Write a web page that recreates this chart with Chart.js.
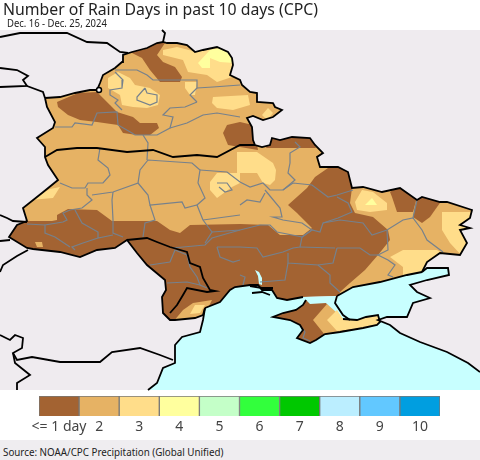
<!DOCTYPE html>
<html>
<head>
<meta charset="utf-8">
<script src="https://cdn.jsdelivr.net/npm/chart.js@4"></script>
<style>
  html, body { margin: 0; padding: 0; background: #fff; }
  #wrap { position: relative; width: 480px; height: 460px; overflow: hidden; font-family: "Noto Sans", sans-serif; }
  canvas { position: absolute; left: 0; }
  .txt { position: absolute; white-space: nowrap; color: #222; transform-origin: left center; }
  #title { left: 3px; top: -3px; font-size: 15.8px; line-height: 24px; }
  #sub { left: 7px; top: 15px; font-size: 11px; line-height: 16px; transform: scaleX(.86); }
  #foot { position: absolute; left: 0; top: 440px; width: 480px; height: 20px; background: #efedf0; }
  #source { left: 3px; top: 444px; font-size: 11.4px; line-height: 16px; transform: scaleX(.86); }
</style>
</head>
<body>
<div id="wrap">
  <canvas id="map" width="480" height="460" style="top:0"></canvas>
  <div id="foot"></div>
  <canvas id="key" width="480" height="50" style="top:390px"></canvas>
  <div class="txt" id="title">Number of Rain Days in past 10 days (CPC)</div>
  <div class="txt" id="sub">Dec. 16 - Dec. 25, 2024</div>
  <div class="txt" id="source">Source: NOAA/CPC Precipitation (Global Unified)</div>
</div>
<script>
// legend
const dayLabels = ["<= 1 day", "2", "3", "4", "5", "6", "7", "8", "9", "10"];
const dayColors = ["#a36332", "#e6b264", "#ffdd8a", "#ffff9e", "#c4ffc8", "#32ff3c", "#00c800", "#bbeeff", "#62c8ff", "#009ee0"];
const dayCells = [1, 1, 1, 1, 1, 1, 1, 1, 1, 1];

// borders
const northBorder = [[45,98],[60,97],[75,93],[90,90],[97,90],[100,83],[103,75],[115,68],[122,62],[123,55],[132,52],[147,48],[157,43],[163,42],[167,43],[177,43],[187,45],[195,52],[203,50],[217,47],[228,52],[232,58],[233,65],[230,75],[240,80],[242,85],[250,92],[257,93],[257,102],[273,103],[275,107],[282,110],[273,117],[263,120],[253,116],[247,118],[252,127],[253,140],[255,145],[262,147],[270,145],[272,138],[280,140],[292,137],[310,138],[315,145],[323,153],[317,157],[320,167],[338,167],[348,172],[352,188],[363,187],[382,192],[400,188],[417,200],[422,197],[440,202],[447,202],[472,210],[470,218],[460,225],[470,228],[460,230],[467,243],[460,255],[440,253],[427,262],[422,272]];
const westBorder = [[45,98],[47,107],[55,122],[53,128],[37,138],[45,147],[45,157],[48,165],[58,180],[42,193],[23,208],[27,221],[17,225],[9,237],[27,248],[33,249],[60,252],[80,257],[97,250],[115,248],[127,240],[137,253],[147,265],[165,280],[166,290],[162,297],[163,313],[170,320],[175,320],[195,318],[203,315],[205,308]];
const coastWest = [[205,308],[220,302],[230,290],[235,287],[250,285],[258,285],[262,290],[272,290],[277,298],[287,300],[303,297]];
const coastEast = [[337,296],[353,287],[380,282],[407,275],[422,272]];
const farShore = [[422,272],[427,268],[448,268],[449,275],[427,280],[410,285],[417,292],[430,298],[413,303],[407,317],[387,317],[378,320],[390,325],[400,333],[420,342],[447,352],[468,363],[480,372]];
const seaEdge = [[480,390],[148,390],[157,383],[163,368],[175,363],[175,345],[182,337],[200,332],[203,320],[205,308]];
const crimeaNorth = [[306,300],[310,304],[326,303],[330,308],[336,315],[343,319]];
const crimeaRest = [[343,319],[357,320],[366,317],[378,315],[380,322],[377,325],[363,328],[340,332],[325,334],[316,340],[310,343],[297,338],[303,330],[300,325],[290,320],[273,317],[283,313],[296,310],[303,305],[306,300]];
const estuary = [[255,270],[259,272],[262,278],[262,285],[259,284],[258,276]];
const blackLines = [
  [[45,157],[57,150],[77,148],[97,148],[127,152],[153,150],[173,157],[197,155],[217,157],[240,145],[255,145]],
  [[127,240],[147,238],[157,242],[170,247],[187,252],[190,263],[200,267],[203,278],[210,290],[215,291],[207,292],[187,288],[183,295],[177,305],[170,313]],
  [[0,37],[20,33],[37,33],[67,33],[87,42],[107,43],[120,52],[128,53]],
  [[163,42],[165,33],[162,30]],
  [[0,68],[17,70],[28,76],[23,80],[27,86],[0,87]],
  [[27,86],[43,92],[45,98]],
  [[0,215],[7,218],[13,221],[27,222]],
  [[0,241],[10,240]],
  [[0,272],[3,265],[17,256],[28,250]],
  [[0,335],[10,340],[15,335],[23,338],[22,348],[13,353],[17,360],[32,357],[60,362],[100,362],[112,352],[140,348],[160,355],[173,360]],
  [[13,353],[15,363],[30,375],[17,383],[17,390]],
  [[250,286],[262,288],[273,288]],
  [[252,293],[262,292],[270,295]],
  [[337,296],[335,303],[343,315],[350,320]]
];
const greyLines = [
  [[115,70],[137,70],[147,75],[153,80],[170,80],[197,80],[197,88],[190,95],[197,102]],
  [[115,72],[123,80],[122,88],[110,90],[110,95],[118,100],[115,103],[122,110]],
  [[197,88],[213,87],[240,85]],
  [[145,88],[137,97],[137,100],[150,105],[157,102],[157,95],[147,93],[145,88]],
  [[55,127],[72,127],[75,123],[92,125],[97,113],[117,112],[118,125],[132,133],[135,135],[143,135],[157,135],[170,128],[173,117],[163,115],[170,108],[185,107],[197,102]],
  [[170,128],[187,123],[203,115],[217,113],[240,117]],
  [[143,135],[148,143],[147,160]],
  [[100,148],[98,160],[108,168],[110,175],[103,183],[88,183],[85,188],[72,188],[60,183]],
  [[87,188],[87,195],[92,200],[82,208],[70,210],[63,213],[67,220],[63,222],[45,225],[45,233],[55,237],[70,247]],
  [[92,195],[113,192],[138,183],[140,170],[148,160],[192,163],[200,170],[198,183],[205,198],[197,205]],
  [[113,192],[112,200],[113,220],[113,233],[123,237]],
  [[138,183],[148,195],[150,205],[182,202],[185,208],[197,205],[203,220],[212,232],[205,243]],
  [[150,205],[155,220],[145,223],[143,237]],
  [[75,210],[82,223],[98,232],[98,238],[113,235]],
  [[98,238],[83,243],[72,247],[75,250]],
  [[27,224],[45,225]],
  [[203,220],[240,215]],
  [[240,230],[212,238],[205,245],[183,247],[173,248]],
  [[217,247],[220,257],[233,262],[240,260]],
  [[200,170],[227,172],[240,182],[250,187],[263,183],[270,190],[283,190],[293,183],[312,185],[328,197],[337,195],[353,190]],
  [[217,183],[227,183],[232,190],[225,192],[219,187]],
  [[295,142],[300,147],[290,153],[290,163],[288,173],[295,180],[283,190]],
  [[265,190],[280,208],[282,217],[273,217],[283,220],[302,223],[312,230],[302,237]],
  [[240,205],[247,200],[260,202],[265,193]],
  [[212,232],[240,230],[260,225],[270,225],[277,232],[302,237],[300,247],[293,248],[283,252],[263,257],[257,248],[240,247],[217,247]],
  [[302,237],[312,230],[320,232],[323,223],[340,220],[363,223],[372,235],[387,230],[403,220],[413,218],[422,230],[427,240],[443,252]],
  [[323,223],[338,218],[352,212],[348,203],[337,197]],
  [[387,230],[388,250],[378,255],[388,260],[395,265],[388,275],[393,277]],
  [[288,253],[288,263],[318,265],[330,275],[330,283],[340,292]],
  [[288,263],[285,280],[260,282]],
  [[337,248],[360,248],[370,255],[378,255]],
  [[337,248],[333,263],[318,265]],
  [[300,247],[335,248]],
  [[413,218],[417,200]],
  [[240,275],[245,277],[243,285]],
  [[150,265],[170,262],[175,250],[187,255],[190,267],[197,277],[200,285],[207,288]],
  [[167,283],[187,282],[200,285]],
  [[300,325],[305,332],[303,338],[310,341]]
];

// rain day zones, each tagged with its number of days
const zoneDays = [1, 1, 1, 1, 1, 1, 1, 2, 3, 3, 3, 3, 3, 3, 3, 3, 3, 2, 3, 3, 3, 4, 4];
const zoneOutlines = [
  [[10,222],[25,221],[52,221],[57,220],[57,215],[68,209],[97,210],[112,221],[157,221],[170,230],[180,233],[190,225],[240,224],[268,225],[280,235],[303,235],[312,228],[297,213],[288,205],[307,188],[315,177],[328,168],[347,168],[352,188],[350,203],[355,213],[373,217],[388,230],[390,240],[378,255],[365,270],[350,283],[340,292],[337,300],[340,330],[200,345],[0,300]],
  [[57,102],[78,93],[97,92],[110,105],[117,112],[133,117],[140,123],[157,123],[159,128],[150,135],[137,135],[123,133],[118,125],[97,122],[80,120],[68,115],[58,107]],
  [[125,50],[143,50],[157,40],[167,40],[157,55],[163,62],[175,67],[182,77],[180,82],[160,82],[150,70],[142,58],[132,53]],
  [[240,122],[227,125],[223,133],[228,145],[240,147],[258,150],[253,125]],
  [[266,148],[272,134],[292,134],[310,134],[316,148]],
  [[390,192],[400,185],[417,197],[413,212],[397,212],[392,197]],
  [[417,197],[422,194],[442,200],[430,217],[422,223],[413,217]],
  [[173,322],[183,310],[193,303],[212,300],[205,314],[193,322]],
  [[190,314],[195,305],[205,305],[200,313]],
  [[163,50],[177,47],[197,52],[210,48],[230,50],[236,67],[232,77],[217,82],[207,75],[188,72],[183,60],[163,55]],
  [[108,78],[118,72],[130,78],[135,85],[150,88],[160,95],[158,105],[147,108],[133,107],[122,105],[120,95],[108,88]],
  [[185,82],[197,82],[195,95],[190,95],[185,88]],
  [[213,97],[248,95],[250,105],[233,110],[217,108],[212,103]],
  [[262,115],[268,108],[273,113],[267,120]],
  [[237,152],[257,152],[273,163],[276,170],[275,180],[270,185],[263,183],[257,173],[237,173]],
  [[210,182],[217,173],[240,173],[240,183],[232,187],[217,198],[210,190]],
  [[30,200],[50,189],[60,187],[53,198]],
  [[35,242],[42,242],[43,247],[37,247]],
  [[355,202],[362,190],[373,192],[387,203],[387,210],[370,212],[357,210]],
  [[442,212],[480,212],[480,260],[462,256],[450,243],[442,230],[442,218]],
  [[390,257],[403,250],[437,250],[445,255],[425,265],[422,276],[403,276],[403,267]],
  [[365,205],[372,198],[377,205]],
  [[198,63],[210,50],[227,46],[234,63],[220,62],[210,58],[210,68],[202,68]]
];
const crimeaZone2 = [[327,304],[313,320],[325,335],[340,332],[357,321],[343,319],[336,312]];
const crimeaZone3 = [[337,310],[327,320],[337,331],[363,328],[377,325],[380,322],[378,315],[366,317],[357,320],[343,319]];

const LAND = "#efebef", SEA = "#c8ffff", BASE = dayColors[1];
const toXY = pts => pts.map(p => ({ x: p[0], y: p[1] }));
const shape = (pts, color) => ({ data: toXY(pts), showLine: true, fill: "shape", backgroundColor: color, borderWidth: 0, borderColor: color, pointRadius: 0 });
const stroke = (pts, color, width) => ({ data: toXY(pts), showLine: true, fill: false, borderColor: color, borderWidth: width, pointRadius: 0 });

// everything outside the two countries, with a hole cut along the borders
const northRev = northBorder.slice().reverse();
const seamAt = northRev.findIndex(p => p[0] === 163 && p[1] === 42);
const coast = coastWest.concat(coastEast);
const crimea = crimeaNorth.concat(crimeaRest.slice(1));
const landMask = [[163,30],[480,30],[480,390],[0,390],[0,30],[163,30]]
  .concat(northRev.slice(seamAt), westBorder, coast, northRev.slice(0, seamAt + 1), [[163,30]]);

const layers = [];
layers.push(shape([[0,30],[480,30],[480,390],[0,390]], BASE));
zoneOutlines.forEach((z, i) => layers.push(shape(z, dayColors[zoneDays[i] - 1])));
layers.push(shape(landMask, LAND));
layers.push(shape(coast.concat(farShore, seaEdge), SEA));
layers.push(shape(estuary, SEA));
layers.push(shape(crimea, dayColors[0]));
layers.push(shape(crimeaZone2, dayColors[1]));
layers.push(shape(crimeaZone3, dayColors[2]));
greyLines.forEach(l => layers.push(stroke(l, "#76818c", 1.2)));
[northBorder, westBorder, coastWest, coastEast, farShore, seaEdge.slice(1), crimeaRest].concat(blackLines)
  .forEach(l => layers.push(stroke(l, "#000", 1.8)));
layers.push({ data: [{ x: 99, y: 90 }], showLine: false, pointRadius: 2.5, pointBackgroundColor: "#fff", pointBorderColor: "#000", pointBorderWidth: 1.5 });

new Chart(document.getElementById("map"), {
  type: "scatter",
  data: { datasets: layers.reverse() },
  options: {
    responsive: false,
    animation: false,
    layout: { padding: 0, autoPadding: false },
    plugins: { legend: { display: false }, tooltip: { enabled: false } },
    elements: { line: { tension: 0 } },
    scales: {
      x: { type: "linear", display: false, min: 0, max: 480 },
      y: { type: "linear", display: false, min: 0, max: 460, reverse: true }
    }
  }
});

new Chart(document.getElementById("key"), {
  type: "bar",
  data: {
    labels: dayLabels,
    datasets: [{ data: dayCells, backgroundColor: dayColors, borderColor: "#777", borderWidth: 1, barPercentage: 1, categoryPercentage: 1 }]
  },
  options: {
    responsive: false,
    animation: false,
    layout: { padding: { left: 39, right: 40, top: 6, bottom: 0 }, autoPadding: false },
    plugins: { legend: { display: false }, tooltip: { enabled: false } },
    scales: {
      x: {
        grid: { display: false, drawTicks: false },
        border: { display: false },
        ticks: { color: "#444", autoSkip: false, maxRotation: 0, padding: 3, font: { family: "Noto Sans", size: 14 } },
        afterFit: s => { s.height = 24; }
      },
      y: { display: false, min: 0, max: 1 }
    }
  }
});
</script>
</body>
</html>
